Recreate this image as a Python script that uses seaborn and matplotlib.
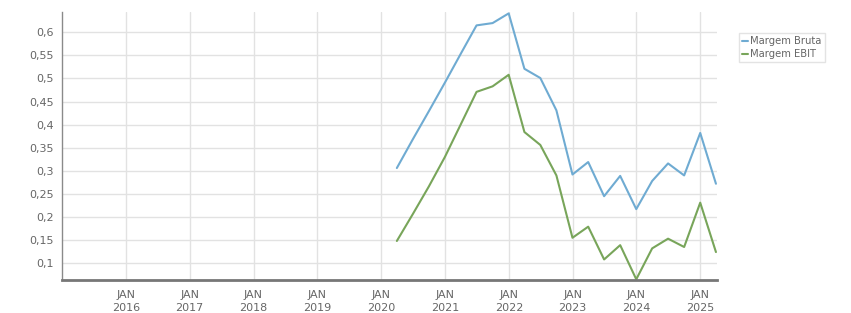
import matplotlib
matplotlib.use("Agg")
import matplotlib.pyplot as plt
import matplotlib.dates as mdates
from matplotlib.ticker import FuncFormatter, FixedLocator
import seaborn as sns
import pandas as pd
import numpy as np

quarters = ["2020-03-31", "2020-06-30", "2020-09-30", "2020-12-31",
            "2021-03-31", "2021-06-30", "2021-09-30", "2021-12-31",
            "2022-03-31", "2022-06-30", "2022-09-30", "2022-12-31",
            "2023-03-31", "2023-06-30", "2023-09-30", "2023-12-31",
            "2024-03-31", "2024-06-30", "2024-09-30", "2024-12-31",
            "2025-03-31"]
margem_bruta = [0.306, 0.368, 0.429, 0.491, 0.553, 0.615, 0.620, 0.641,
                0.521, 0.501, 0.431, 0.292, 0.319, 0.245, 0.289, 0.217,
                0.278, 0.316, 0.290, 0.382, 0.272]
margem_ebit = [0.148, 0.206, 0.266, 0.330, 0.400, 0.471, 0.483, 0.508,
               0.384, 0.356, 0.290, 0.155, 0.179, 0.108, 0.139, 0.065,
               0.132, 0.153, 0.135, 0.231, 0.124]
series_names = ["Margem Bruta", "Margem EBIT"]
colors = ["#6fabd2", "#78a55a"]
year_ticks = list(range(2016, 2026))

df = pd.DataFrame({
    "date": pd.to_datetime(quarters * 2),
    "value": margem_bruta + margem_ebit,
    "serie": [series_names[0]] * len(quarters) + [series_names[1]] * len(quarters),
})

sns.set_style("white")
plt.rcParams["font.family"] = ["DejaVu Sans"]

fig = plt.figure(figsize=(8.51, 3.13), dpi=100)
ax = fig.add_axes([62 / 851, 33 / 313, 655 / 851, 268 / 313])

sns.lineplot(data=df, x="date", y="value", hue="serie", palette=colors,
             linewidth=1.5, ax=ax, legend=True)

ax.set_xlim(pd.Timestamp("2015-01-01"), pd.Timestamp("2025-04-06"))
ax.set_ylim(0.0635, 0.644)

ax.xaxis.set_major_locator(FixedLocator([mdates.date2num(pd.Timestamp(f"{y}-01-01")) for y in year_ticks]))
ax.xaxis.set_major_formatter(FuncFormatter(lambda v, p: "JAN\n" + str(mdates.num2date(v).year)))

yt = [0.1, 0.15, 0.2, 0.25, 0.3, 0.35, 0.4, 0.45, 0.5, 0.55, 0.6]
ax.set_yticks(yt)
ax.yaxis.set_major_formatter(FuncFormatter(lambda v, p: ("%g" % round(v, 2)).replace(".", ",")))

ax.grid(True, color="#e2e2e2", linewidth=1)
ax.set_axisbelow(True)
for s in ["top", "right"]:
    ax.spines[s].set_visible(False)
ax.spines["left"].set_color("#8a8a8a")
ax.spines["left"].set_linewidth(1)
ax.spines["bottom"].set_color("#777777")
ax.spines["bottom"].set_linewidth(2)
ax.tick_params(axis="both", colors="#777777", labelcolor="#666666", labelsize=8,
               length=4, width=1, direction="out")
ax.tick_params(axis="y", pad=2)
for lbl in ax.get_xticklabels():
    lbl.set_linespacing(1.35)
ax.set_xlabel("")
ax.set_ylabel("")

leg = ax.legend(loc="upper left", bbox_to_anchor=(739 / 851, 280 / 313),
                bbox_transform=fig.transFigure, frameon=True, fontsize=7.2,
                handlelength=0.55, handletextpad=0.3, borderpad=0.3,
                labelspacing=0.3, fancybox=False, borderaxespad=0)
leg.get_frame().set_edgecolor("#dddddd")
leg.get_frame().set_linewidth(1)
for t in leg.get_texts():
    t.set_color("#666666")

fig.savefig("out.png", dpi=100)
